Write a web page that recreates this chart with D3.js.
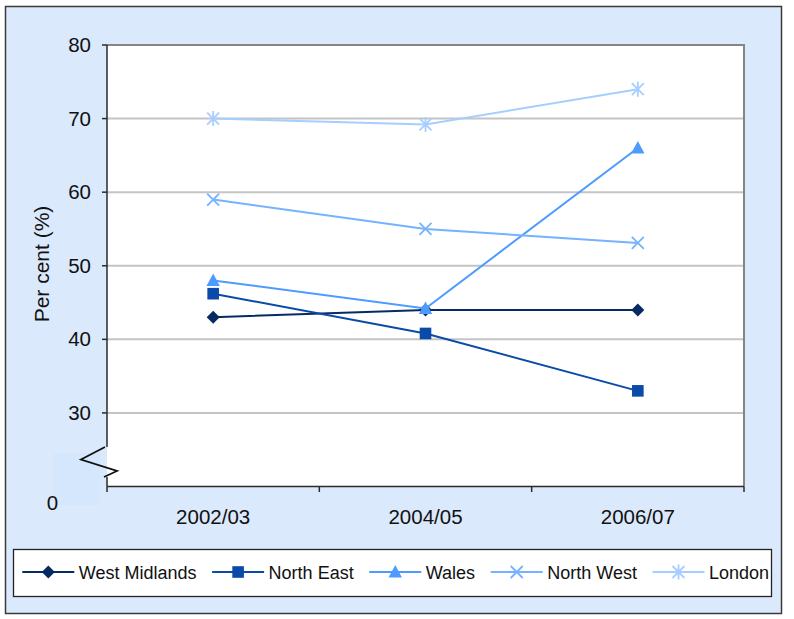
<!DOCTYPE html>
<html>
<head>
<meta charset="utf-8">
<script src="https://cdn.jsdelivr.net/npm/d3@7"></script>
<style>
  html, body { margin: 0; padding: 0; background: #ffffff; }
  svg { display: block; font-family: "Liberation Sans", Arial, sans-serif; }
</style>
</head>
<body>
<svg id="chart" width="794" height="619"></svg>
<script>
// Survey years on the category axis
const years = ["2002/03", "2004/05", "2006/07"];

// Per cent values for each region
const westMidlands = [43, 44, 44];
const northEast = [46.2, 40.8, 33];
const wales = [48, 44.2, 66];
const northWest = [59, 55, 53.1];
const london = [70, 69.2, 74];

const seriesNames = ["West Midlands", "North East", "Wales", "North West", "London"];
const seriesValues = [westMidlands, northEast, wales, northWest, london];
const seriesColors = ["#062b63", "#0a4aa8", "#4d9bff", "#75b3ff", "#a6ceff"];
const seriesMarkers = ["diamond", "square", "triangle", "cross", "star"];

// Value axis labels (axis is broken below 30)
const yTicks = [30, 40, 50, 60, 70, 80];
const yGrid = [30, 40, 50, 60, 70];
const yMin = 20, yMax = 80;
const yZeroLabel = "0";
const yTitle = "Per cent (%)";

const svg = d3.select("#chart");

// Outer chart frame
svg.append("rect")
  .attr("x", 5.5).attr("y", 6.5).attr("width", 776).attr("height", 607)
  .attr("fill", "#dbe9fc").attr("stroke", "#3a3a3a").attr("stroke-width", 1.5);

const plot = { left: 107, top: 45, right: 744, bottom: 486.5 };

const x = d3.scaleBand().domain(years).range([plot.left, plot.right]);
const y = d3.scaleLinear().domain([yMin, yMax]).range([plot.bottom, plot.top]);

// Plot area
svg.append("rect")
  .attr("x", plot.left).attr("y", plot.top)
  .attr("width", plot.right - plot.left).attr("height", plot.bottom - plot.top)
  .attr("fill", "#ffffff");

// Horizontal gridlines
svg.append("g").selectAll("line").data(yGrid).join("line")
  .attr("x1", plot.left).attr("x2", plot.right)
  .attr("y1", d => y(d)).attr("y2", d => y(d))
  .attr("stroke", "#c4c4c4").attr("stroke-width", 2);

// Top and right edges of the plot area
svg.append("path")
  .attr("d", `M${plot.left},${y(yMax)}H${plot.right}V${plot.bottom}`)
  .attr("fill", "none").attr("stroke", "#858585").attr("stroke-width", 2);

// Soft patch behind the axis break
svg.append("rect")
  .attr("x", 54).attr("y", 453).attr("width", 46).attr("height", 52)
  .attr("fill", "#d4e7fd");

// Value axis with a break between the baseline and 30
const breakTop = y(yMin) - 39.5, breakBottom = y(yMin) - 9.5;
svg.append("path")
  .attr("d", `M${plot.left},${y(yMax)}V${breakTop}M${plot.left},${breakBottom}V${plot.bottom}`)
  .attr("fill", "none").attr("stroke", "#2b2b2b").attr("stroke-width", 1.5);
svg.append("path")
  .attr("d", `M${plot.left - 2},${breakTop}L${plot.left - 26},${breakTop + 12.5}L${plot.left + 10},${breakTop + 24}L${plot.left - 3},${breakBottom}`)
  .attr("fill", "none").attr("stroke", "#111").attr("stroke-width", 1.8);

const yAxis = svg.append("g");
yAxis.selectAll("line").data(yTicks).join("line")
  .attr("x1", plot.left - 5).attr("x2", plot.left)
  .attr("y1", d => y(d)).attr("y2", d => y(d))
  .attr("stroke", "#2b2b2b").attr("stroke-width", 1.5);
yAxis.selectAll("text").data(yTicks).join("text")
  .attr("x", 91).attr("y", d => y(d) + 7)
  .attr("text-anchor", "end").attr("font-size", 20.5).attr("fill", "#111")
  .text(d => d);
svg.append("text")
  .attr("x", 52.5).attr("y", 510)
  .attr("text-anchor", "middle").attr("font-size", 20.5).attr("fill", "#111")
  .text(yZeroLabel);

// Value axis title
svg.append("text")
  .attr("transform", "translate(48.5,264) rotate(-90)")
  .attr("text-anchor", "middle").attr("font-size", 21).attr("fill", "#111")
  .text(yTitle);

// Category axis
svg.append("line")
  .attr("x1", plot.left).attr("x2", plot.right)
  .attr("y1", plot.bottom).attr("y2", plot.bottom)
  .attr("stroke", "#2b2b2b").attr("stroke-width", 1.5);
const xEdges = years.map(d => x(d)).concat([x(years[years.length - 1]) + x.bandwidth()]);
svg.append("g").selectAll("line").data(xEdges).join("line")
  .attr("x1", d => d).attr("x2", d => d)
  .attr("y1", plot.bottom).attr("y2", plot.bottom + 5.5)
  .attr("stroke", "#2b2b2b").attr("stroke-width", 1.5);
svg.append("g").selectAll("text").data(years).join("text")
  .attr("x", d => x(d) + x.bandwidth() / 2).attr("y", 524)
  .attr("text-anchor", "middle").attr("font-size", 20.5).attr("fill", "#111")
  .text(d => d);

// Marker drawing
function drawMarker(g, type, color) {
  if (type === "diamond") {
    g.append("path").attr("d", "M0,-6.5L6.5,0L0,6.5L-6.5,0Z").attr("fill", color);
  } else if (type === "square") {
    g.append("rect").attr("x", -5.8).attr("y", -5.8).attr("width", 11.6).attr("height", 11.6).attr("fill", color);
  } else if (type === "triangle") {
    g.append("path").attr("d", "M0,-7L6.7,5.5L-6.7,5.5Z").attr("fill", color);
  } else if (type === "cross") {
    g.append("path").attr("d", "M-6,-6L6,6M-6,6L6,-6")
      .attr("stroke", color).attr("stroke-width", 1.8).attr("fill", "none");
  } else if (type === "star") {
    g.append("path").attr("d", "M-6,-6L6,6M-6,6L6,-6M0,-7.5V7.5")
      .attr("stroke", color).attr("stroke-width", 1.8).attr("fill", "none");
  }
}

const cx = d => x(d) + x.bandwidth() / 2;
const line = d3.line().x(d => cx(d.year)).y(d => y(d.value));

// Series lines and markers, drawn in series order
seriesValues.forEach((vals, i) => {
  const pts = years.map((yr, j) => ({ year: yr, value: vals[j] }));
  svg.append("path")
    .datum(pts)
    .attr("d", line)
    .attr("fill", "none")
    .attr("stroke", seriesColors[i])
    .attr("stroke-width", 2);
  years.forEach((yr, j) => {
    const g = svg.append("g").attr("transform", `translate(${cx(yr)},${y(vals[j])})`);
    drawMarker(g, seriesMarkers[i], seriesColors[i]);
  });
});

// Legend
svg.append("rect")
  .attr("x", 13.5).attr("y", 549.5).attr("width", 758).attr("height", 47)
  .attr("fill", "#ffffff").attr("stroke", "#222").attr("stroke-width", 1.3);

const legend = svg.append("g");
let lx = 22.3;
const ly = 572;
seriesNames.forEach((name, i) => {
  legend.append("line")
    .attr("x1", lx).attr("x2", lx + 52).attr("y1", ly).attr("y2", ly)
    .attr("stroke", seriesColors[i]).attr("stroke-width", 2);
  const g = legend.append("g").attr("transform", `translate(${lx + 26},${ly})`);
  drawMarker(g, seriesMarkers[i], seriesColors[i]);
  const t = legend.append("text")
    .attr("x", lx + 56.5).attr("y", ly + 7)
    .attr("font-size", 18).attr("fill", "#111")
    .text(name);
  lx += 56.5 + t.node().getComputedTextLength() + 15.6;
});
</script>
</body>
</html>
